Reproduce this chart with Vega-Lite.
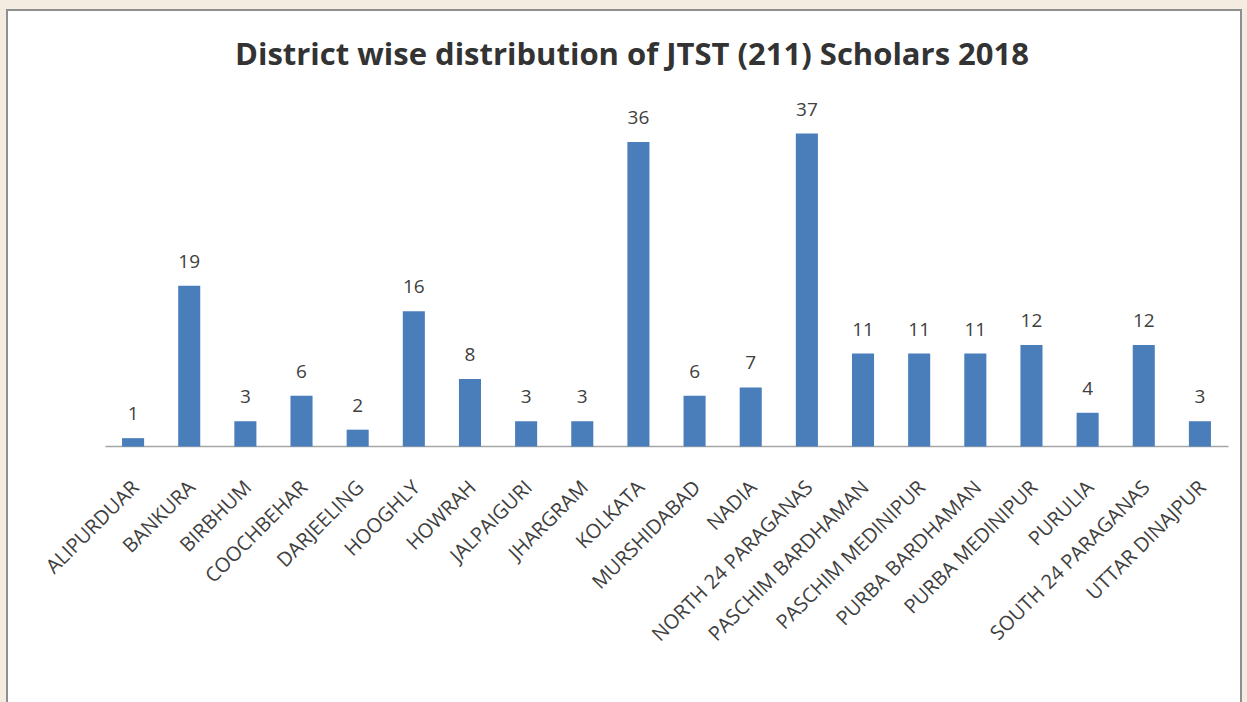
{
  "$schema": "https://vega.github.io/schema/vega-lite/v6.json",
  "autosize": "none",
  "width": 1234,
  "height": 693,
  "padding": {"left": 7, "top": 10, "right": 6, "bottom": 0},
  "background": "#F4ECE0",
  "title": {
    "text": "District wise distribution of JTST (211) Scholars 2018",
    "font": "Open Sans",
    "fontSize": 31,
    "fontWeight": "bold",
    "color": "#333333",
    "anchor": "middle",
    "frame": "group",
    "baseline": "alphabetic",
    "offset": -86,
    "dx": 8
  },
  "config": {
    "view": {"fill": "white", "stroke": "#8f8f8f", "strokeWidth": 2}
  },
  "data": {
    "values": [
      {"district": "ALIPURDUAR", "value": 1},
      {"district": "BANKURA", "value": 19},
      {"district": "BIRBHUM", "value": 3},
      {"district": "COOCHBEHAR", "value": 6},
      {"district": "DARJEELING", "value": 2},
      {"district": "HOOGHLY", "value": 16},
      {"district": "HOWRAH", "value": 8},
      {"district": "JALPAIGURI", "value": 3},
      {"district": "JHARGRAM", "value": 3},
      {"district": "KOLKATA", "value": 36},
      {"district": "MURSHIDABAD", "value": 6},
      {"district": "NADIA", "value": 7},
      {"district": "NORTH 24 PARAGANAS", "value": 37},
      {"district": "PASCHIM BARDHAMAN", "value": 11},
      {"district": "PASCHIM MEDINIPUR", "value": 11},
      {"district": "PURBA BARDHAMAN", "value": 11},
      {"district": "PURBA MEDINIPUR", "value": 12},
      {"district": "PURULIA", "value": 4},
      {"district": "SOUTH 24 PARAGANAS", "value": 12},
      {"district": "UTTAR DINAJPUR", "value": 3}
    ]
  },
  "encoding": {
    "x": {
      "field": "district",
      "type": "nominal",
      "sort": null,
      "scale": {"range": [98, 1221], "paddingInner": 0.607, "paddingOuter": 0.3035, "round": false},
      "axis": {
        "title": null,
        "offset": -257,
        "domainColor": "#A6A6A6",
        "domainWidth": 1.5,
        "ticks": false,
        "tickSize": 0,
        "labelAngle": -45,
        "labelAlign": "right",
        "labelBaseline": "middle",
        "labelPadding": 38,
        "labelOffset": 3,
        "labelFont": "Open Sans",
        "labelFontSize": 20,
        "labelColor": "#404040",
        "labelOverlap": false,
        "labelLimit": 0,
        "labelBound": false,
        "grid": false
      }
    },
    "y": {
      "field": "value",
      "type": "quantitative",
      "scale": {"domain": [-30.3, 51.6], "nice": false, "zero": false},
      "axis": null
    }
  },
  "layer": [
    {
      "mark": {"type": "bar", "color": "#4A7EBB"},
      "encoding": {"y2": {"datum": 0}}
    },
    {
      "mark": {"type": "text", "font": "Open Sans", "fontSize": 19, "color": "#404040", "baseline": "alphabetic", "dy": -18},
      "encoding": {"text": {"field": "value", "type": "quantitative"}}
    }
  ]
}
